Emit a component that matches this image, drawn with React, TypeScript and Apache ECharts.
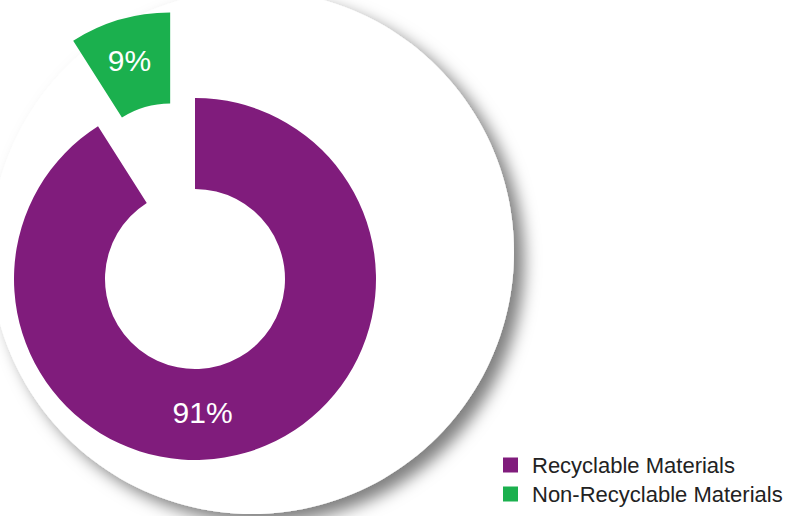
import React, { useEffect, useRef } from "react";
import * as echarts from "echarts";

const categories = ["Recyclable Materials", "Non-Recyclable Materials"];
const values = [91, 9];
const labels = ["91%", "9%"];
const colors = ["#801C7C", "#1BB04E"];

export default function App() {
  const ref = useRef<HTMLDivElement>(null);
  useEffect(() => {
    const chart = echarts.init(ref.current!, undefined, { renderer: "svg" });
    const font = "'Liberation Sans', Arial, Helvetica, sans-serif";
    chart.setOption({
      animation: false,
      legend: {
        orient: "vertical",
        left: 503,
        top: 454,
        padding: 0,
        icon: "rect",
        itemWidth: 15,
        itemHeight: 15,
        itemGap: 7,
        selectedMode: false,
        textStyle: { fontFamily: font, fontSize: 22, color: "#222", padding: [0, 0, 0, 9] },
        data: categories,
      },
      graphic: [
        {
          type: "circle",
          z: 0,
          shape: { cx: 252, cy: 252, r: 262 },
          style: {
            fill: "#ffffff",
            shadowBlur: 16,
            shadowOffsetX: 10,
            shadowOffsetY: 9,
            shadowColor: "rgba(0,0,0,0.5)",
          },
        },
      ],
      series: [
        {
          type: "pie",
          z: 5,
          center: [195, 279],
          radius: [90, 181],
          startAngle: 90,
          clockwise: true,
          selectedMode: "single",
          selectedOffset: 89,
          avoidLabelOverlap: false,
          emphasis: { disabled: true },
          itemStyle: { borderWidth: 0 },
          label: {
            show: true,
            position: "inside",
            color: "#ffffff",
            fontFamily: font,
            fontSize: 30,
            formatter: (p: any) => labels[p.dataIndex],
          },
          labelLine: { show: false },
          data: categories.map((name, i) => ({
            name,
            value: values[i],
            selected: i === 1,
            itemStyle: { color: colors[i] },
            label: i === 0 ? { offset: [-31, 0] } : { padding: [0, 4, 16, 0] },
          })),
        },
      ],
    });
    return () => chart.dispose();
  }, []);
  return (
    <div
      ref={ref}
      style={{ position: "fixed", left: 0, top: 0, width: 793, height: 516, background: "#fff" }}
    />
  );
}
